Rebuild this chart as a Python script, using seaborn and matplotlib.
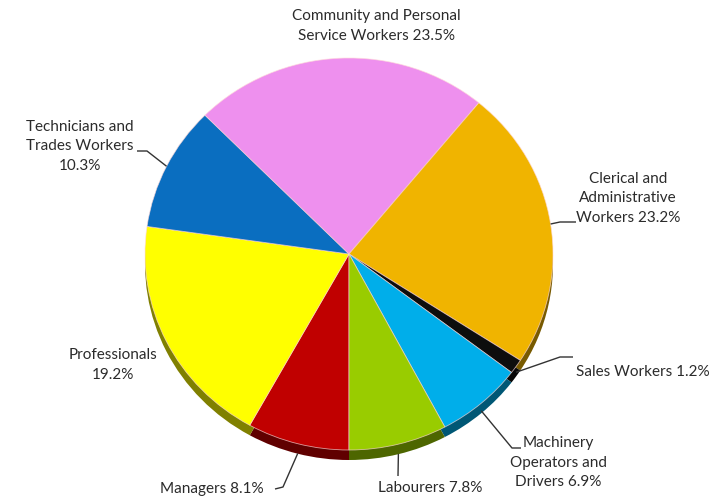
import numpy as np
import matplotlib
matplotlib.use("Agg")
import matplotlib.pyplot as plt
import matplotlib.colors as mcolors
import seaborn as sns

# Occupation shares (%), listed clockwise from the bottom of the pie
categories = [
    "Managers",
    "Professionals",
    "Technicians and Trades Workers",
    "Community and Personal Service Workers",
    "Clerical and Administrative Workers",
    "Sales Workers",
    "Machinery Operators and Drivers",
    "Labourers",
]
shares = [8.1, 19.2, 10.3, 23.5, 23.2, 1.2, 6.9, 7.8]
slice_colors = ["#C00000", "#FFFF00", "#0A6EC0", "#EE90EE",
                "#F0B400", "#0D0D0D", "#00AEEA", "#99CC00"]

# Label text with line breaks ({} receives the share)
label_text = [
    "Managers {}",
    "Professionals\n{}",
    "Technicians and\nTrades Workers\n{}",
    "Community and Personal\nService Workers {}",
    "Clerical and\nAdministrative\nWorkers {}",
    "Sales Workers {}",
    "Machinery\nOperators and\nDrivers {}",
    "Labourers {}",
]

# Layout in pixel units (x from left, y from top)
W, H = 722, 499
CX, CY = 349, 254          # pie centre
RX, RY = 204, 196          # horizontal / vertical radius of the tilted face
DEPTH = 10                 # thickness of the pie rim

label_pos = [(212, 489), (113, 365), (80, 146), (376, 26),
             (628, 198), (643, 372), (558, 463), (430, 488)]
label_ha = ["center"] * 8
# Bend points of the leader lines (None = no leader)
leader_pts = [
    [(283, 487), (275, 489)],
    None,
    [(147, 151), (137, 151)],
    None,
    [(560, 222), (576, 222)],
    [(560, 357), (573, 357)],
    [(512, 448), (521, 448)],
    [(398, 476)],
]

sns.set_theme(style="white")
plt.rcParams["font.family"] = ["Lato", "DejaVu Sans"]

fig = plt.figure(figsize=(W / 100, H / 100), dpi=100)
ax = fig.add_axes([0, 0, 1, 1])


def to_data(px, py):
    return (px - CX) / RX, (CY - py) / RY


def darker(c, f=0.5):
    r, g, b = mcolors.to_rgb(c)
    return (r * f, g * f, b * f)


# Rim of the pie: the same wedges, shifted down and shaded
ax.pie(shares, colors=[darker(c) for c in slice_colors], startangle=-90,
       counterclock=False, radius=1.0, center=(0, -DEPTH / RY),
       wedgeprops=dict(linewidth=0, antialiased=True))
# Top face
wedges, _ = ax.pie(shares, colors=slice_colors, startangle=-90,
                   counterclock=False, radius=1.0, center=(0, 0),
                   wedgeprops=dict(edgecolor=(1, 0.85, 0.85, 0.7),
                                   linewidth=0.6))

ax.set_aspect("auto")
ax.set_xlim(-CX / RX, (W - CX) / RX)
ax.set_ylim(-(H - CY) / RY, CY / RY)
ax.axis("off")

text_color = "#2b2b2b"
for w, share, tmpl, pos, ha, pts in zip(wedges, shares, label_text,
                                        label_pos, label_ha, leader_pts):
    x, y = to_data(*pos)
    ax.text(x, y, tmpl.format(f"{share:.1f}%"), ha=ha, va="center",
            fontsize=11, color=text_color, linespacing=1.5)
    if pts is None:
        continue
    mid = np.deg2rad((w.theta1 + w.theta2) / 2)
    sx, sy = np.cos(mid), np.sin(mid)
    if sy < 0:
        sy -= DEPTH / RY * (-sy)
    xs = [sx] + [to_data(*p)[0] for p in pts]
    ys = [sy] + [to_data(*p)[1] for p in pts]
    ax.plot(xs, ys, color="#333333", linewidth=1.0, solid_capstyle="butt")

fig.savefig("out.png", dpi=100, facecolor="white")
